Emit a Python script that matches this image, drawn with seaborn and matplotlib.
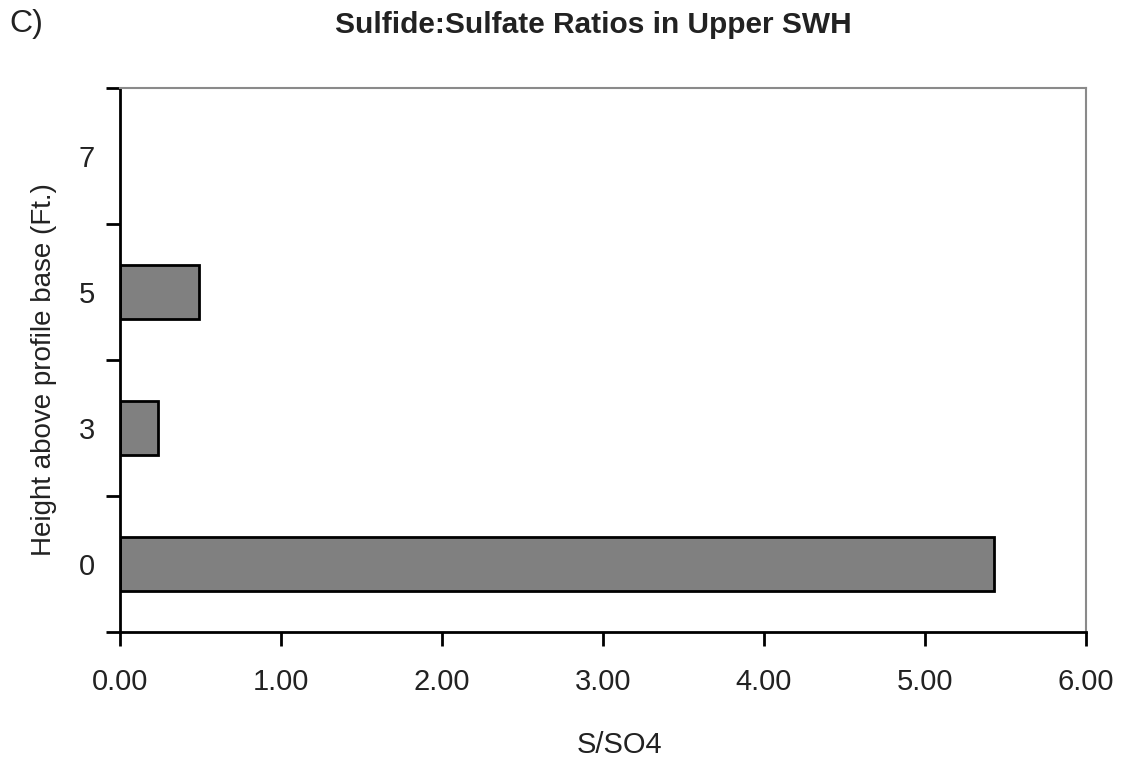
import matplotlib
matplotlib.use("Agg")
import matplotlib.pyplot as plt
import seaborn as sns
import pandas as pd
import numpy as np
from matplotlib.ticker import FixedLocator

# Data
heights = ["0", "3", "5", "7"]
ratios = [5.43, 0.235, 0.49, np.nan]
xticks = [0, 1, 2, 3, 4, 5, 6]
xtick_labels = ["0.00", "1.00", "2.00", "3.00", "4.00", "5.00", "6.00"]
title = "Sulfide:Sulfate Ratios in Upper SWH"
panel = "C)"
xlabel = "S/SO4"
ylabel = "Height above profile base (Ft.)"

sns.set_theme(style="white")
plt.rcParams["font.family"] = ["Liberation Sans", "DejaVu Sans"]

df = pd.DataFrame({"height": heights, "ratio": ratios}).dropna()

fig = plt.figure(figsize=(11.30, 7.63), dpi=100)
ax = fig.add_axes([120/1130, 131/763, (1086-120)/1130, (632-88)/763])

order = heights[::-1]
sns.barplot(data=df, x="ratio", y="height", order=order, orient="h",
            color="#808080", saturation=1, width=0.4,
            edgecolor="black", linewidth=2, ax=ax)

ax.set_xlim(0, 6)
ax.set_ylim(3.5, -0.5)
ax.set_xticks(xticks)
ax.set_xticklabels(xtick_labels, fontsize=21, color="#222222")
ax.set_yticks(range(len(order)))
ax.set_yticklabels(order, fontsize=21, color="#222222")
ax.yaxis.set_minor_locator(FixedLocator(np.arange(-0.5, 4.0, 1.0)))
ax.tick_params(axis="y", which="major", length=0, pad=18)
ax.tick_params(axis="y", which="minor", length=10, width=2, color="black", direction="out", left=True)
ax.tick_params(axis="x", which="major", length=10, width=2, color="black", direction="out", bottom=True, pad=16)

for s in ["left", "bottom"]:
    ax.spines[s].set_color("black")
    ax.spines[s].set_linewidth(2)
for s in ["top", "right"]:
    ax.spines[s].set_color("#8a8a8a")
    ax.spines[s].set_linewidth(1.5)

ax.set_xlabel("")
ax.set_ylabel("")
fig.text(619/1130, 1 - 745/763, xlabel, ha="center", va="center", fontsize=21, color="#222222")
fig.text(44/1130, 1 - 370/763, ylabel, ha="center", va="center", rotation=90, fontsize=20, color="#222222")
fig.text(593/1130, 1 - 25/763, title, ha="center", va="center", fontsize=21.5,
         fontweight="bold", color="#222222")
fig.text(9/1130, 1 - 24/763, panel, ha="left", va="center", fontsize=23, color="#222222")

fig.savefig("out.png", dpi=100, facecolor="white")
